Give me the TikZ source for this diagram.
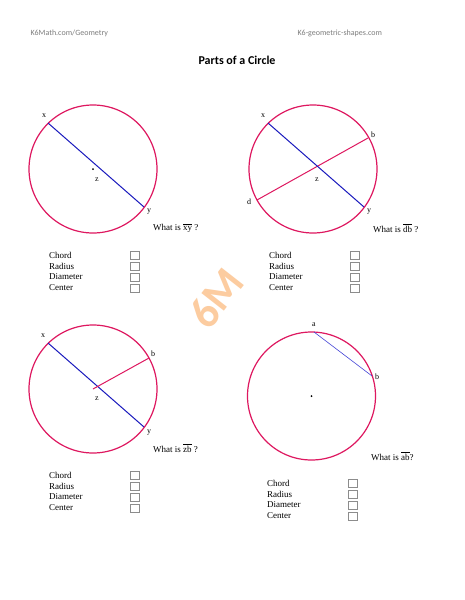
\documentclass[tikz,border=0pt]{standalone}
\usepackage{fontspec}
\setmainfont{Liberation Serif}
\newfontfamily\hdrfont{Carlito}
\definecolor{rim}{RGB}{222,24,96}
\definecolor{seg}{RGB}{28,28,190}
\definecolor{chordblue}{RGB}{70,70,215}
\definecolor{mark}{RGB}{252,204,160}
\definecolor{hdrgray}{RGB}{125,125,125}
\newcommand*{\rad}{64}

\tikzset{
  rimline/.style={draw=rim, line width=1.2pt},
  diam/.style={draw=seg, line width=1pt},
  spoke/.style={draw=rim, line width=1pt},
  pt/.style={font=\fontsize{8}{9}\selectfont, inner sep=0pt},
  ask/.style={font=\fontsize{9}{10}\selectfont, anchor=west, inner sep=0pt},
  item/.style={font=\fontsize{9}{10}\selectfont, anchor=west, inner sep=0pt},
  tick/.style={draw=black!45, line width=0.4pt, minimum width=9pt, minimum height=8pt, inner sep=0pt}
}

\begin{document}
\begin{tikzpicture}[x=1pt, y=-1pt]
  \useasboundingbox[fill=white] (0,0) rectangle (464,600);

  % watermark
  \node[text=mark, font=\hdrfont\bfseries\fontsize{44}{44}\selectfont, rotate=52, inner sep=0pt] (wm) at (216,298) {6M};

  % header
  \node[text=hdrgray, font=\hdrfont\fontsize{8}{9}\selectfont, anchor=west] (site) at (27,33) {K6Math.com/Geometry};
  \node[text=hdrgray, font=\hdrfont\fontsize{8}{9}\selectfont, anchor=west] (site2) at (294,33) {K6-geometric-shapes.com};
  \node[font=\hdrfont\bfseries\fontsize{12}{13}\selectfont] (title) at (237,60) {Parts of a Circle};

  % circle 1 : diameter xy
  \coordinate (c1) at (93,169);
  \coordinate (x1) at (48,123);
  \coordinate (y1) at (144,207);
  \draw[rimline] (c1) circle (\rad);
  \draw[diam] (x1) -- (y1);
  \fill (c1) circle (1);
  \node[pt] (lx1) at (44,116) {x};
  \node[pt] (lz1) at (97,180) {z};
  \node[pt] (ly1) at (149,212) {y};
  \node[ask] (q1) at (153,228) {What is $\overline{\hbox{xy}}$ ?};

  % circle 2 : two diameters
  \coordinate (c2) at (313,169);
  \coordinate (x2) at (268,123);
  \coordinate (y2) at (364,207);
  \coordinate (b2) at (368,138);
  \coordinate (d2) at (257,200);
  \draw[rimline] (c2) circle (\rad);
  \draw[spoke] (d2) -- (b2);
  \draw[diam] (x2) -- (y2);
  \node[pt] (lx2) at (263,116) {x};
  \node[pt] (lb2) at (373,135) {b};
  \node[pt] (ld2) at (249,202) {d};
  \node[pt] (lz2) at (317,180) {z};
  \node[pt] (ly2) at (369,212) {y};
  \node[ask] (q2) at (373,228) {What is $\overline{\hbox{db}}$ ?};

  % circle 3 : radius zb
  \coordinate (c3) at (93,389);
  \coordinate (x3) at (48,343);
  \coordinate (y3) at (144,427);
  \coordinate (b3) at (149,358);
  \draw[rimline] (c3) circle (\rad);
  \draw[diam] (x3) -- (y3);
  \draw[spoke] (c3) -- (b3);
  \node[pt] (lx3) at (43,336) {x};
  \node[pt] (lb3) at (153,354) {b};
  \node[pt] (lz3) at (97,399) {z};
  \node[pt] (ly3) at (149,433) {y};
  \node[ask] (q3) at (153,448) {What is $\overline{\hbox{zb}}$ ?};

  % circle 4 : chord ab
  \coordinate (c4) at (311.5,396);
  \coordinate (a4) at (314,332);
  \coordinate (b4) at (372,376);
  \draw[rimline] (c4) circle (\rad);
  \draw[draw=chordblue, line width=0.6pt] (a4) -- (b4);
  \fill (c4) circle (1);
  \node[pt] (la4) at (314,325) {a};
  \node[pt] (lb4) at (377,377) {b};
  \node[ask] (q4) at (371,456) {What is $\overline{\hbox{ab}}$?};

  % check lists
  \foreach \n/\y in {Chord/255,Radius/266,Diameter/277,Center/288} {
    \node[item] (l1\n) at (49,\y) {\n};
    \node[tick] (t1\n) at (135,\y) {};
    \node[item] (l2\n) at (269,\y) {\n};
    \node[tick] (t2\n) at (355,\y) {};
  }
  \foreach \n/\y in {Chord/475,Radius/486,Diameter/497,Center/508} {
    \node[item] (l3\n) at (49,\y) {\n};
    \node[tick] (t3\n) at (135,\y) {};
  }
  \foreach \n/\y in {Chord/483,Radius/494,Diameter/505,Center/516} {
    \node[item] (l4\n) at (267,\y) {\n};
    \node[tick] (t4\n) at (353,\y) {};
  }
\end{tikzpicture}
\end{document}
